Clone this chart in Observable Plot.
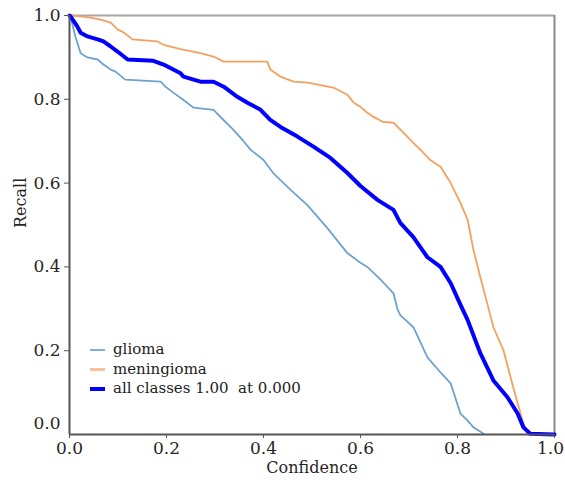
<!DOCTYPE html>
<html>
<head>
<meta charset="utf-8">
<script src="https://cdn.jsdelivr.net/npm/d3@7"></script>
<script src="https://cdn.jsdelivr.net/npm/@observablehq/plot@0.6"></script>
<style>
  body { margin: 0; background: #fff; }
  #wrap { position: relative; width: 565px; height: 483px; }
  #wrap svg, #wrap svg text { font-family: "DejaVu Serif", serif !important; }
  #legend { position: absolute; left: 90px; top: 340px; font-family: "DejaVu Serif", serif; font-size: 15px; color: #222; line-height: 19.5px; }
  #legend .row { display: flex; align-items: center; white-space: pre; }
  #legend .sw { display: inline-block; width: 15px; margin-right: 8px; }
</style>
</head>
<body>
<div id="wrap"></div>
<script>
// ---- data ----
const gliomaX = [0, 0.002, 0.012, 0.023, 0.037, 0.058, 0.07, 0.085, 0.095, 0.115, 0.188, 0.198, 0.214, 0.233, 0.256, 0.297, 0.318, 0.338, 0.359, 0.373, 0.40, 0.42, 0.456, 0.49, 0.53, 0.573, 0.60, 0.614, 0.641, 0.668, 0.676, 0.682, 0.709, 0.738, 0.765, 0.786, 0.806, 0.821, 0.833, 0.854];
const gliomaY = [1.0, 0.998, 0.95, 0.91, 0.90, 0.895, 0.883, 0.871, 0.866, 0.847, 0.842, 0.83, 0.816, 0.80, 0.78, 0.775, 0.75, 0.727, 0.70, 0.68, 0.655, 0.624, 0.584, 0.548, 0.495, 0.433, 0.41, 0.40, 0.37, 0.337, 0.30, 0.285, 0.256, 0.184, 0.148, 0.122, 0.05, 0.033, 0.017, 0.002];

const meningiomaX = [0, 0.002, 0.023, 0.043, 0.064, 0.085, 0.099, 0.111, 0.13, 0.181, 0.194, 0.229, 0.27, 0.297, 0.318, 0.408, 0.414, 0.435, 0.462, 0.491, 0.544, 0.573, 0.586, 0.6, 0.614, 0.627, 0.647, 0.668, 0.689, 0.709, 0.724, 0.744, 0.765, 0.786, 0.806, 0.821, 0.833, 0.847, 0.862, 0.874, 0.895, 0.915, 0.93, 0.936, 0.944, 0.96, 1.0];
const meningiomaY = [1.0, 1.0, 0.998, 0.995, 0.99, 0.983, 0.967, 0.96, 0.943, 0.938, 0.93, 0.92, 0.91, 0.902, 0.89, 0.89, 0.871, 0.854, 0.842, 0.84, 0.828, 0.811, 0.792, 0.782, 0.768, 0.758, 0.746, 0.744, 0.72, 0.696, 0.679, 0.655, 0.639, 0.60, 0.553, 0.512, 0.44, 0.376, 0.31, 0.256, 0.20, 0.112, 0.05, 0.026, 0.005, 0, 0];

const allX = [0, 0.002, 0.016, 0.023, 0.037, 0.058, 0.07, 0.085, 0.099, 0.12, 0.173, 0.194, 0.214, 0.229, 0.235, 0.27, 0.297, 0.318, 0.346, 0.367, 0.394, 0.414, 0.435, 0.47, 0.503, 0.538, 0.573, 0.6, 0.635, 0.668, 0.682, 0.709, 0.738, 0.765, 0.786, 0.806, 0.821, 0.847, 0.874, 0.903, 0.924, 0.936, 0.95, 1.0];
const allY = [1.0, 0.998, 0.974, 0.959, 0.95, 0.943, 0.938, 0.926, 0.914, 0.895, 0.892, 0.883, 0.871, 0.862, 0.854, 0.842, 0.842, 0.83, 0.806, 0.792, 0.775, 0.751, 0.734, 0.711, 0.687, 0.66, 0.624, 0.593, 0.56, 0.536, 0.505, 0.471, 0.423, 0.40, 0.361, 0.31, 0.273, 0.194, 0.129, 0.089, 0.05, 0.017, 0.002, 0];

const seriesNames = ["glioma", "meningioma", "all classes 1.00  at 0.000"];
const seriesColors = ["#6fa3cf", "#f4a160", "#0000ff"];
const seriesWidths = [1.8, 1.8, 4];
const legendColors = ["#7fb0d8", "#f8c39a", "#0000ff"];
const legendWidths = [2.5, 2.5, 3.5];

const xTicks = [0, 0.2, 0.4, 0.6, 0.8, 1.0];
const xLastTick = [1.0];
const yTicks = [0.2, 0.4, 0.6, 0.8, 1.0];
const yZeroTick = [0];
const xLabel = "Confidence";
const yLabel = "Recall";

const toRows = (xs, ys) => xs.map((x, i) => ({x, y: ys[i]}));
const series = [toRows(gliomaX, gliomaY), toRows(meningiomaX, meningiomaY), toRows(allX, allY)];

const fmt = d3.format(".1f");

const chart = Plot.plot({
  width: 565,
  height: 483,
  marginLeft: 69,
  marginRight: 11,
  marginTop: 15,
  marginBottom: 49,
  x: {domain: [0, 1]},
  y: {domain: [0, 1]},
  style: {fontFamily: "'DejaVu Serif', serif", fontSize: "17px", color: "#262626", background: "#fff", overflow: "visible"},
  marks: [
    Plot.ruleY([1], {stroke: "#a8a8a8", strokeWidth: 2}),
    Plot.ruleX([1], {stroke: "#8a8a8a", strokeWidth: 2}),
    ...series.map((rows, i) => Plot.line(rows, {x: "x", y: "y", stroke: seriesColors[i], strokeWidth: seriesWidths[i], strokeLinejoin: "round"})),
    Plot.ruleX([0], {stroke: "#555", strokeWidth: 2}),
    Plot.ruleY([0], {stroke: "#555", strokeWidth: 2}),
    Plot.axisX(xTicks, {tickFormat: d => d === 1 ? "" : fmt(d), tickSize: 4, tickPadding: 3, label: null, stroke: "#555"}),
    Plot.axisX(xLastTick, {tickFormat: fmt, tickSize: 0, tickPadding: 7, dx: -4, label: null}),
    Plot.axisY(yTicks, {tickFormat: fmt, tickSize: 5, tickPadding: 4, label: null, stroke: "#555"}),
    Plot.axisY(yZeroTick, {tickFormat: fmt, tickSize: 0, tickPadding: 9, dy: -11, label: null}),
    Plot.text([xLabel], {frameAnchor: "bottom", dy: 38, fontSize: 16}),
    Plot.text([yLabel], {frameAnchor: "left", rotate: -90, dx: -49, dy: 3, fontSize: 16})
  ]
});

const wrap = document.getElementById("wrap");
wrap.appendChild(chart);

const legend = document.createElement("div");
legend.id = "legend";
seriesNames.forEach((name, i) => {
  const row = document.createElement("div");
  row.className = "row";
  const sw = document.createElement("span");
  sw.className = "sw";
  sw.style.height = legendWidths[i] + "px";
  sw.style.background = legendColors[i];
  const t = document.createElement("span");
  t.textContent = name;
  row.appendChild(sw);
  row.appendChild(t);
  legend.appendChild(row);
});
wrap.appendChild(legend);
</script>
</body>
</html>
